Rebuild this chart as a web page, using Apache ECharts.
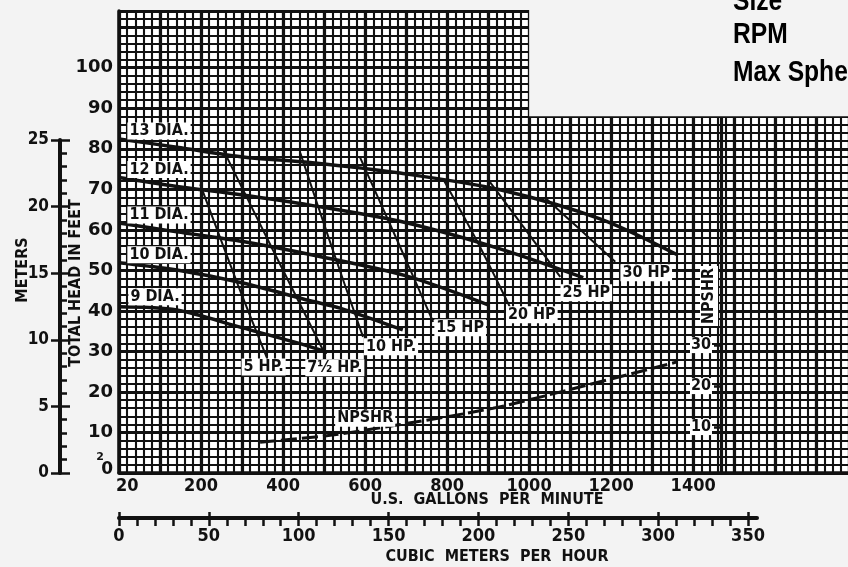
<!DOCTYPE html>
<html><head><meta charset="utf-8">
<script src="https://cdn.jsdelivr.net/npm/echarts@6.0.0/dist/echarts.min.js"></script>
<style>html,body{margin:0;padding:0;background:#f3f3f3}#c{width:848px;height:567px}</style>
</head><body><div id="c"></div>
<script>
// ---- tick labels ----
const gpmLabels = [20, 200, 400, 600, 800, 1000, 1200, 1400];
const feetLabels = [2, 10, 20, 30, 40, 50, 60, 70, 80, 90, 100];
const meterLabels = [0, 5, 10, 15, 20, 25];
const meterMinorTicks = [0,1,2,3,4,5,6,7,8,9,10,11,12,13,14,15,16,17,18,19,20,21,22,23,24,25];
const cubicLabels = [0, 50, 100, 150, 200, 250, 300, 350];
const cubicMinorTicks = [0,10,20,30,40,50,60,70,80,90,100,110,120,130,140,150,160,170,180,190,200,210,220,230,240,250,260,270,280,290,300,310,320,330,340,350];
const npshrLabels = [10, 20, 30];

// ---- impeller diameter curves [US GPM, total head ft] ----
const dia13 = [[0,82.4],[141,80.4],[302,78],[466,76.6],[685,74],[929,69.9],[1173,62.7],[1360,53.9]];
const dia12 = [[0,72.9],[141,70.7],[302,68.6],[466,66.1],[698,61.8],[929,55.3],[1132,48.2]];
const dia11 = [[0,61.7],[141,59.5],[302,57.1],[466,53.9],[698,48.7],[900,41.5]];
const dia10 = [[0,51.9],[141,50.1],[302,46.9],[466,42.5],[539,40.7],[692,35.3]];
const dia9  = [[0,41],[141,40.2],[302,35.8],[435,32.1],[508,29.8]];

// ---- horsepower lines [US GPM, ft] ----
const hp5  = [[198,71.2],[290,46.4],[360,28.6]];
const hp75 = [[254,79.8],[375,55.1],[497,30.4]];
const hp10 = [[442,79],[517,56.3],[595,33.6]];
const hp15 = [[588,77.8],[678,57.5],[766,37.3]];
const hp20 = [[791,72.4],[875,56.8],[953,41]];
const hp25 = [[900,72.4],[988,60.5],[1076,48.4]];
const hp30 = [[1039,67.9],[1125,60],[1210,52.1]];

// ---- NPSHR [US GPM, NPSHR ft] ----
const npshr = [[344,6.3],[515,8],[678,10.5],[912,14.6],[1093,19],[1361,25.9]];

const F = '"DejaVu Sans Condensed","Liberation Sans Narrow","DejaVu Sans",sans-serif';
const FB = '"DejaVu Sans",sans-serif';
const INK = '#111';
const BG = '#f3f3f3';

const boxLabel = (text, off) => ({
  show: true, position: 'inside', offset: off, formatter: text,
  color: INK, fontFamily: F, fontWeight: 'bold', fontSize: 16,
  backgroundColor: '#fff', padding: [1, 2, 0, 2]
});

function curve(name, pts, width, labelIdx, text, off, yIdx, dash) {
  return {
    name, type: 'line', xAxisIndex: 0, yAxisIndex: yIdx || 0,
    smooth: 0.3, symbol: 'circle', symbolSize: 0, showSymbol: true,
    silent: true, animation: false, z: 5,
    lineStyle: { color: INK, width, type: dash || 'solid' },
    itemStyle: { color: INK },
    data: pts.map((p, i) => i === labelIdx ? { value: p, label: boxLabel(text, off) } : p)
  };
}

const series = [
  curve('13 DIA', dia13, 3.5, 0, '13 DIA.', [40, -8]),
  curve('12 DIA', dia12, 3.5, 0, '12 DIA.', [40, -8]),
  curve('11 DIA', dia11, 3.5, 0, '11 DIA.', [40, -8]),
  curve('10 DIA', dia10, 3.5, 0, '10 DIA.', [40, -8]),
  curve('9 DIA', dia9, 3.5, 0, '9 DIA.', [36, -10]),
  curve('5 HP', hp5, 2, 2, '5 HP.', [-3, 10]),
  curve('7.5 HP', hp75, 2, 2, '7½ HP.', [12, 18]),
  curve('10 HP', hp10, 2, 2, '10 HP.', [28, 10]),
  curve('15 HP', hp15, 2, 2, '15 HP', [27, 6]),
  curve('20 HP', hp20, 2, 2, '20 HP', [22, 8]),
  curve('25 HP', hp25, 2, 2, '25 HP', [26, 16]),
  curve('30 HP', hp30, 2, 2, '30 HP', [31, 11]),
  curve('NPSHR', npshr, 3, 1, 'NPSHR', [35, -17], 1, [16, 5])
];
series[0].markArea = {
  silent: true, itemStyle: { color: BG, borderColor: BG, borderWidth: 4 },
  data: [[{ coord: [1005, 88.5] }, { coord: [1780, 114] }]]
};

const lbl = (o) => Object.assign({ color: INK, fontFamily: F, fontWeight: 'bold', fontSize: 17 }, o);

const option = {
  backgroundColor: BG,
  animation: false,
  grid: [
    { left: 119, top: 11, width: 730, height: 462, show: true, backgroundColor: '#fff', borderWidth: 0, outerBoundsMode: 'none' },
    { left: 60, top: 140, width: 1, height: 333, outerBoundsMode: 'none' },
    { left: 119, top: 517, width: 638, height: 1, outerBoundsMode: 'none' }
  ],
  xAxis: [
    { gridIndex: 0, type: 'value', position: 'bottom', min: 0, max: 1780, interval: 20,
      axisLine: { show: true, onZero: false, lineStyle: { color: INK, width: 3.5 } }, axisTick: { show: false },
      axisLabel: lbl({ customValues: gpmLabels, margin: 4, fontSize: 18, formatter: v => String(v) }),
      splitLine: { show: true, lineStyle: { color: INK, width: 2.1 } } },
    { gridIndex: 0, type: 'value', position: 'bottom', min: 0, max: 1780, interval: 100,
      axisLine: { show: false, onZero: false }, axisTick: { show: false }, axisLabel: { show: false },
      splitLine: { show: true, lineStyle: { color: INK, width: 3.2 } } },
    { gridIndex: 1, type: 'value', show: false, min: 0, max: 1 },
    { gridIndex: 2, type: 'value', position: 'bottom', min: 0, max: 355,
      axisLine: { show: true, onZero: false, lineStyle: { color: INK, width: 4 } },
      axisTick: { show: true, customValues: cubicMinorTicks, length: 8, lineStyle: { color: INK, width: 2.5 } },
      axisLabel: lbl({ customValues: cubicLabels, margin: 9, fontSize: 18, formatter: v => String(v) }),
      splitLine: { show: false } },
    { gridIndex: 2, type: 'value', position: 'bottom', min: 0, max: 355,
      axisLine: { show: false, onZero: false },
      axisTick: { show: true, inside: true, customValues: cubicLabels, length: 6, lineStyle: { color: INK, width: 2.5 } },
      axisLabel: { show: false }, splitLine: { show: false } }
  ],
  yAxis: [
    { gridIndex: 0, type: 'value', position: 'left', min: 0, max: 114, interval: 2,
      axisLine: { show: true, onZero: false, lineStyle: { color: INK, width: 3.5 } }, axisTick: { show: false },
      axisLabel: lbl({ customValues: feetLabels, margin: 6, fontFamily: FB, fontSize: 18,
        formatter: v => v === 2 ? '{t|2}\n{z|0}' : String(v),
        rich: { t: { fontSize: 11, fontFamily: FB, fontWeight: 'bold', color: INK, padding: [0, 9, 0, 0], lineHeight: 9 },
                z: { fontSize: 17, fontFamily: FB, fontWeight: 'bold', color: INK, lineHeight: 15 } } }),
      splitLine: { show: true, lineStyle: { color: INK, width: 2.1 } } },
    { gridIndex: 0, type: 'value', position: 'right', offset: -128, min: -1.2, max: 111.5,
      axisLine: { show: true, onZero: false, lineStyle: { color: INK, width: 3.2 } },
      axisTick: { show: true, inside: true, customValues: npshrLabels, length: 7, lineStyle: { color: INK, width: 2.5 } },
      axisLabel: lbl({ inside: true, customValues: npshrLabels, margin: 9, backgroundColor: '#fff', padding: [0, 1], fontSize: 16 }),
      splitLine: { show: false } },
    { gridIndex: 0, type: 'value', position: 'left', min: 0, max: 114, interval: 10,
      axisLine: { show: false, onZero: false }, axisTick: { show: false }, axisLabel: { show: false },
      splitLine: { show: true, lineStyle: { color: INK, width: 3.2 } } },
    { gridIndex: 1, type: 'value', position: 'left', min: 0, max: 25,
      axisLine: { show: true, onZero: false, lineStyle: { color: INK, width: 4 } },
      axisTick: { show: true, inside: true, customValues: meterMinorTicks, length: 7, lineStyle: { color: INK, width: 2.5 } },
      axisLabel: lbl({ customValues: meterLabels, margin: 11 }),
      splitLine: { show: false } },
    { gridIndex: 1, type: 'value', position: 'left', min: 0, max: 25,
      axisLine: { show: false, onZero: false },
      axisTick: { show: true, customValues: meterLabels, length: 9, lineStyle: { color: INK, width: 2.5 } },
      axisLabel: { show: false }, splitLine: { show: false } },
    { gridIndex: 1, type: 'value', position: 'left', min: 0, max: 25,
      axisLine: { show: false, onZero: false },
      axisTick: { show: true, inside: true, customValues: meterLabels, length: 10, lineStyle: { color: INK, width: 2.5 } },
      axisLabel: { show: false }, splitLine: { show: false } },
    { gridIndex: 2, type: 'value', show: false, min: 0, max: 1 }
  ],
  graphic: [
    { type: 'text', x: 733, y: 1.5, scaleX: 0.82, z: 100, style: { text: 'Size', fill: '#000', font: 'bold 30px "Liberation Sans",sans-serif', verticalAlign: 'middle' } },
    { type: 'text', x: 733, y: 34.5, scaleX: 0.82, z: 100, style: { text: 'RPM', fill: '#000', font: 'bold 30px "Liberation Sans",sans-serif', verticalAlign: 'middle' } },
    { type: 'text', x: 733, y: 72.5, scaleX: 0.82, z: 100, style: { text: 'Max Sphere Size', fill: '#000', font: 'bold 30px "Liberation Sans",sans-serif', verticalAlign: 'middle' } },
    { type: 'text', x: 23, y: 270, rotation: Math.PI / 2, z: 100, style: { text: 'METERS', fill: INK, font: 'bold 16px ' + F, align: 'center', verticalAlign: 'middle' } },
    { type: 'text', x: 76, y: 283, rotation: Math.PI / 2, z: 100, style: { text: 'TOTAL HEAD IN FEET', fill: INK, font: 'bold 16px ' + F, align: 'center', verticalAlign: 'middle' } },
    { type: 'text', x: 709, y: 296, rotation: Math.PI / 2, z: 100, style: { text: 'NPSHR', fill: INK, font: 'bold 16px ' + F, align: 'center', verticalAlign: 'middle', backgroundColor: '#fff', padding: [1, 2] } },
    { type: 'text', x: 487, y: 500, z: 100, style: { text: 'U.S.  GALLONS  PER  MINUTE', fill: INK, font: 'bold 16px ' + F, align: 'center', verticalAlign: 'middle' } },
    { type: 'text', x: 497, y: 557, z: 100, style: { text: 'CUBIC  METERS  PER  HOUR', fill: INK, font: 'bold 16px ' + F, align: 'center', verticalAlign: 'middle' } }
  ],
  series
};
const chart = echarts.init(document.getElementById('c'), null, { renderer: 'canvas' });
chart.setOption(option);
</script>
</body></html>
